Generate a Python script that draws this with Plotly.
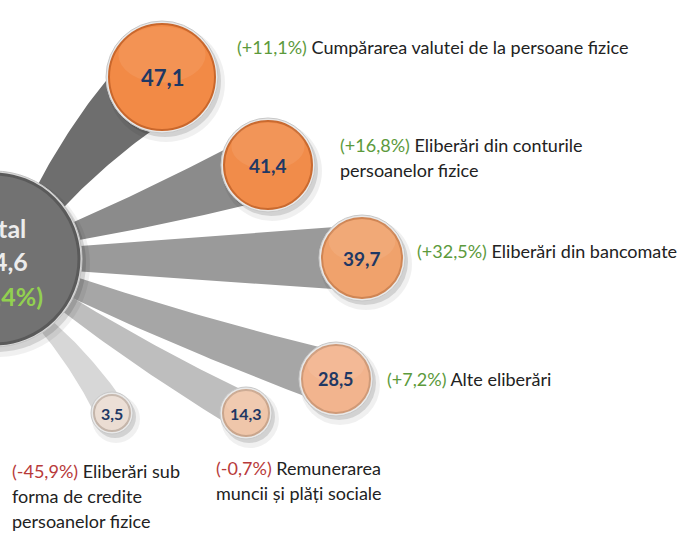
import numpy as np
import plotly.graph_objects as go

# ---------------- data ----------------
categories = [
    "Cumpărarea valutei de la persoane fizice",
    "Eliberări din conturile\npersoanelor fizice",
    "Eliberări din bancomate",
    "Alte eliberări",
    "Remunerarea\nmuncii și plăți sociale",
    "Eliberări sub\nforma de credite\npersoanelor fizice",
]
values = [47.1, 41.4, 39.7, 28.5, 14.3, 3.5]
changes = [11.1, 16.8, 32.5, 7.2, -0.7, -45.9]
total_label = "Total"
total_value = 174.6
total_change = 11.4

# ---------------- layout / style ----------------
W, H = 690, 533
hub_xy = (-6, 259)
hub_r = 88
bubble_xy = [(162, 77), (268, 165), (362, 258), (336, 379), (246, 413), (112, 413)]
bubble_r = [56, 47, 43, 37, 26, 21]
bubble_fill = ["#f28a46", "#f18c4a", "#f0a26c", "#f2b48e", "#efc6aa", "#ebddd3"]
bubble_edge = ["#c9672c", "#c96a30", "#cf8554", "#cf9a78", "#c9a58c", "#c4b5aa"]
value_size = [22, 19, 19, 18, 16, 16]
stem_color = ["#6e6e6e", "#8b8b8b", "#9a9a9a", "#a6a6a6", "#bebebe", "#d7d7d7"]
stem_w0 = [16, 8, 12, 10, 8, 7]
stem_w1 = [40, 34, 33, 27, 19, 16]
stem_bend = [-12, 4, 0, 6, 6, -8]
label_xy = [(237, 47), (340, 145), (417, 251), (387, 379), (216, 468), (12, 471)]
line_gap = 25
FONT = "Lato"
GREEN = "#5c9a3c"
RED = "#b83a3a"


def fmt(v):
    return f"{v:.1f}".replace(".", ",")


def fmt_pct(v):
    s = f"{v:+.1f}".replace(".", ",")
    return f"({s}%)"


fig = go.Figure()

# ---- stems ----
t = np.linspace(0, 1, 40)
for i, (bx, by) in enumerate(bubble_xy):
    hx, hy = hub_xy
    d = np.array([bx - hx, by - hy], float)
    d /= np.linalg.norm(d)
    n = np.array([-d[1], d[0]])
    p0 = np.array([hx, hy]) + (hub_r - 12) * d
    p1 = np.array([bx, by], float)
    m = (p0 + p1) / 2 + stem_bend[i] * n
    edges = []
    for sgn in (1, -1):
        a = p0 + sgn * stem_w0[i] * n
        b = p1 + sgn * stem_w1[i] * n
        c = m + sgn * (stem_w0[i] + stem_w1[i]) / 2 * n
        pts = ((1 - t) ** 2)[:, None] * a + (2 * (1 - t) * t)[:, None] * c + (t ** 2)[:, None] * b
        edges.append(pts)
    poly = np.vstack([edges[0], edges[1][::-1]])
    fig.add_trace(go.Scatter(
        x=poly[:, 0], y=poly[:, 1], mode="lines", fill="toself",
        fillcolor=stem_color[i], line=dict(width=0), hoverinfo="skip", showlegend=False))

shapes = []


def circle(cx, cy, r, fill, line_color=None, lw=0, opacity=1):
    shapes.append(dict(
        type="circle", xref="x", yref="y", x0=cx - r, x1=cx + r, y0=cy - r, y1=cy + r,
        fillcolor=fill, line=dict(color=line_color or fill, width=lw), opacity=opacity,
        layer="above"))


# ---- hub ----
hx, hy = hub_xy
circle(hx + 4, hy + 6, hub_r + 4, "rgba(0,0,0,0.06)")
circle(hx + 3, hy + 4, hub_r + 1, "rgba(0,0,0,0.12)")
circle(hx, hy, hub_r, "#d9d9d9", "#c4c4c4", 1)
circle(hx, hy, hub_r - 3, "#727272", "#5a5a5a", 3)

# ---- bubbles ----
for i, (bx, by) in enumerate(bubble_xy):
    r = bubble_r[i]
    circle(bx + 4, by + 6, r + 3, "rgba(0,0,0,0.06)")
    circle(bx + 3, by + 4, r, "rgba(0,0,0,0.12)")
    circle(bx, by, r, "#e9e9e9", "#c8c8c8", 1)
    circle(bx, by, r - 3, bubble_fill[i], bubble_edge[i], 2)
    shapes.append(dict(
        type="circle", xref="x", yref="y",
        x0=bx - 0.78 * r, x1=bx + 0.78 * r, y0=by - 0.9 * r, y1=by + 0.1 * r,
        fillcolor="rgba(255,255,255,0.08)", line=dict(width=0), layer="above"))

annotations = []
# values in bubbles
for i, (bx, by) in enumerate(bubble_xy):
    annotations.append(dict(
        x=bx, y=by, xref="x", yref="y", text=f"<b>{fmt(values[i])}</b>", showarrow=False,
        font=dict(family=FONT, size=value_size[i], color="#1f3864"),
        xanchor="center", yanchor="middle"))

# hub text (right-aligned, cropped by the figure edge as in the reference)
hub_lines = [
    (total_label, 228, "#ececec", 28),
    (fmt(total_value), 261, "#ececec", 30),
    (fmt_pct(total_change), 296, "#92d050", 45),
]
for txt, y, col, xr in hub_lines:
    annotations.append(dict(
        x=xr, y=y, xref="x", yref="y", text=f"<b>{txt}</b>", showarrow=False,
        font=dict(family=FONT, size=25, color=col), xanchor="right", yanchor="middle"))

# category labels
for i, cat in enumerate(categories):
    lx, ly = label_xy[i]
    lines = cat.split("\n")
    col = GREEN if changes[i] >= 0 else RED
    for k, ln in enumerate(lines):
        txt = ln
        if k == 0:
            txt = f"<span style='color:{col}'>{fmt_pct(changes[i])}</span> {ln}"
        annotations.append(dict(
            x=lx - 2, y=ly + k * line_gap, xref="x", yref="y", text=txt, showarrow=False,
            font=dict(family=FONT, size=18, color="#222222"),
            xanchor="left", yanchor="middle", align="left"))

fig.update_layout(
    width=W, height=H,
    margin=dict(l=0, r=0, t=0, b=0),
    paper_bgcolor="white", plot_bgcolor="white",
    xaxis=dict(range=[0, W], visible=False, fixedrange=True),
    yaxis=dict(range=[H, 0], visible=False, fixedrange=True),
    shapes=shapes, annotations=annotations, showlegend=False,
)

fig.write_html("out.html", config={"displayModeBar": False},
               post_script="document.body.style.margin='0px';")
